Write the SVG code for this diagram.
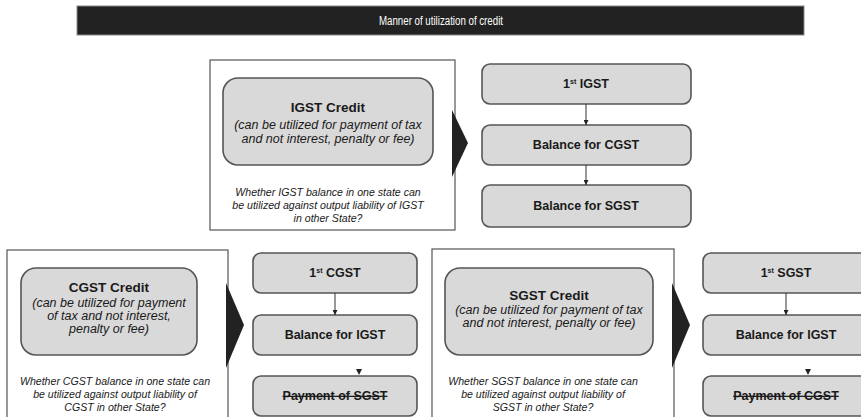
<svg xmlns="http://www.w3.org/2000/svg" width="861" height="417" viewBox="0 0 861 417">
<style>
.frame{fill:#fff;stroke:#555;stroke-width:1.2}
.box{fill:#d9d9d9;stroke:#555;stroke-width:1.6}
.lbl{font-family:"Liberation Sans",Arial,sans-serif;font-size:12.5px;font-weight:bold;fill:#1a1a1a;text-anchor:middle}
.ttl{font-family:"Liberation Sans",Arial,sans-serif;font-size:13.5px;font-weight:bold;fill:#1a1a1a;text-anchor:middle}
.it{font-family:"Liberation Sans",Arial,sans-serif;font-size:12.5px;font-style:italic;fill:#1a1a1a;text-anchor:middle}
.q{font-family:"Liberation Sans",Arial,sans-serif;font-size:10.6px;font-style:italic;fill:#1a1a1a;text-anchor:middle}
.sup{font-size:7px}
.strike{text-decoration:line-through}
.con{stroke:#333;stroke-width:1;fill:none}
.chev{fill:#222}
</style>
<defs>
<marker id="ah" viewBox="0 0 10 10" refX="10" refY="5" markerWidth="5" markerHeight="5" orient="auto"><path d="M0,0 L10,5 L0,10 z" fill="#222"/></marker>
</defs>
<g id="title">
<rect x="77" y="6" width="727" height="29" fill="#222" stroke="#888" stroke-width="1"/>
<text x="441" y="25" font-family="'Liberation Sans',Arial,sans-serif" font-size="12" fill="#fff" text-anchor="middle" textLength="124" lengthAdjust="spacingAndGlyphs">Manner of utilization of credit</text>
</g>
<g id="igst-section">
<rect class="frame" x="210" y="60" width="245" height="170"/>
<g id="igst-credit">
<rect class="box" x="223" y="78" width="210" height="87" rx="15"/>
<text class="ttl" x="328" y="112">IGST Credit</text>
<text class="it" x="328" y="129">(can be utilized for payment of tax</text>
<text class="it" x="328" y="143">and not interest, penalty or fee)</text>
</g>
<g id="igst-question">
<text class="q" x="328" y="196">Whether IGST balance in one state can</text>
<text class="q" x="328" y="209">be utilized against output liability of IGST</text>
<text class="q" x="328" y="222">in other State?</text>
</g>
<path id="igst-chevron" class="chev" d="M452,110 L468,143 L452,177 z"/>
</g>
<g id="igst-first">
<rect class="box" x="482" y="64" width="209" height="40" rx="8"/>
<text class="lbl" x="586" y="88">1<tspan class="sup" dy="-4">st</tspan><tspan dy="4"> IGST</tspan></text>
</g>
<g id="igst-cgst">
<rect class="box" x="482" y="125" width="209" height="40" rx="8"/>
<text class="lbl" x="586" y="149">Balance for CGST</text>
</g>
<g id="igst-sgst">
<rect class="box" x="482" y="185" width="209" height="42" rx="8"/>
<text class="lbl" x="586" y="210">Balance for SGST</text>
</g>
<g id="cgst-section">
<rect class="frame" x="7" y="250" width="221" height="180"/>
<g id="cgst-credit">
<rect class="box" x="21" y="268" width="176" height="87" rx="15"/>
<text class="ttl" x="109" y="292">CGST Credit</text>
<text class="it" x="109" y="307">(can be utilized for payment</text>
<text class="it" x="109" y="320">of tax and not interest,</text>
<text class="it" x="109" y="333">penalty or fee)</text>
</g>
<g id="cgst-question">
<text class="q" x="115" y="385">Whether CGST balance in one state can</text>
<text class="q" x="115" y="398">be utilized against output liability of</text>
<text class="q" x="115" y="411">CGST in other State?</text>
</g>
<path id="cgst-chevron" class="chev" d="M226,283 L244,325 L226,368 z"/>
</g>
<g id="cgst-first">
<rect class="box" x="253" y="253" width="164" height="40" rx="8"/>
<text class="lbl" x="335" y="277">1<tspan class="sup" dy="-4">st</tspan><tspan dy="4"> CGST</tspan></text>
</g>
<g id="cgst-igst">
<rect class="box" x="253" y="315" width="164" height="40" rx="8"/>
<text class="lbl" x="335" y="339">Balance for IGST</text>
</g>
<g id="cgst-sgst">
<rect class="box" x="253" y="376" width="164" height="40" rx="8"/>
<text class="lbl strike" x="335" y="400">Payment of SGST</text>
</g>
<g id="sgst-section">
<rect class="frame" x="432" y="249" width="242" height="180"/>
<g id="sgst-credit">
<rect class="box" x="445" y="268" width="208" height="87" rx="15"/>
<text class="ttl" x="549" y="300">SGST Credit</text>
<text class="it" x="549" y="314">(can be utilized for payment of tax</text>
<text class="it" x="549" y="327">and not interest, penalty or fee)</text>
</g>
<g id="sgst-question">
<text class="q" x="543" y="385">Whether SGST balance in one state can</text>
<text class="q" x="543" y="398">be utilized against output liability of</text>
<text class="q" x="543" y="411">SGST in other State?</text>
</g>
<path id="sgst-chevron" class="chev" d="M672,283 L690,325 L672,368 z"/>
</g>
<g id="sgst-first">
<rect class="box" x="703" y="253" width="166" height="40" rx="8"/>
<text class="lbl" x="786" y="277">1<tspan class="sup" dy="-4">st</tspan><tspan dy="4"> SGST</tspan></text>
</g>
<g id="sgst-igst">
<rect class="box" x="703" y="315" width="166" height="40" rx="8"/>
<text class="lbl" x="786" y="339">Balance for IGST</text>
</g>
<g id="sgst-cgst">
<rect class="box" x="703" y="376" width="166" height="40" rx="8"/>
<text class="lbl strike" x="786" y="400">Payment of CGST</text>
</g>
<g id="connectors">
<line class="con" x1="586" y1="104" x2="586" y2="125" marker-end="url(#ah)"/>
<line class="con" x1="586" y1="165" x2="586" y2="185" marker-end="url(#ah)"/>
<line class="con" x1="335" y1="293" x2="335" y2="315" marker-end="url(#ah)"/>
<path class="chev" d="M356,369 L362,369 L359,375 z"/>
<line class="con" x1="786" y1="293" x2="786" y2="315" marker-end="url(#ah)"/>
<path class="chev" d="M805,369 L811,369 L808,375 z"/>
</g>
</svg>
